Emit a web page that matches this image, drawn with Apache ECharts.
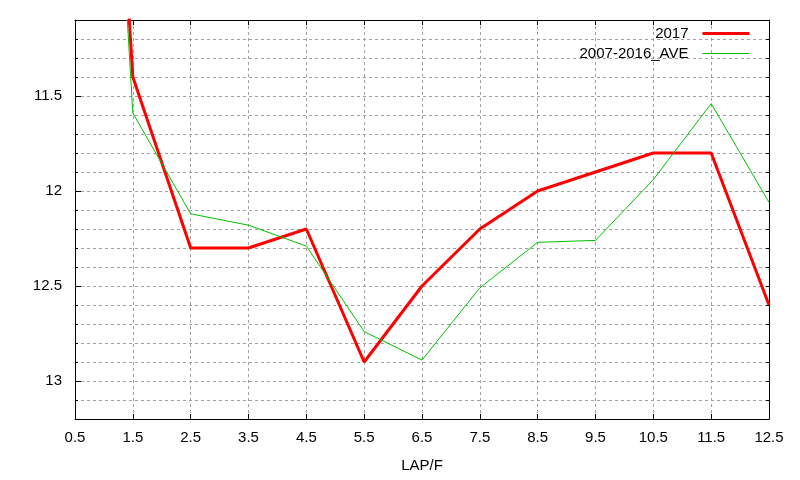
<!DOCTYPE html>
<html>
<head>
<meta charset="utf-8">
<script src="https://cdn.jsdelivr.net/npm/echarts@6/dist/echarts.min.js"></script>
<style>
html,body{margin:0;padding:0;background:#fff;}
#chart{width:800px;height:480px;}
</style>
</head>
<body>
<div id="chart"></div>
<script>
var laps = ['0.5','1.5','2.5','3.5','4.5','5.5','6.5','7.5','8.5','9.5','10.5','11.5','12.5'];
var lap2017 = [6.5, 11.4, 12.3, 12.3, 12.2, 12.9, 12.5, 12.2, 12.0, 11.9, 11.8, 11.8, 12.6];
var lapAve = [6.45, 11.59, 12.12, 12.18, 12.29, 12.74, 12.89, 12.51, 12.27, 12.26, 11.94, 11.54, 12.06];
var yLabels = [11.5, 12, 12.5, 13];
var seriesNames = ['2017', '2007-2016_AVE'];

var FONT = 'Liberation Sans, Arial, sans-serif';
var gridLine = {show: true, lineStyle: {color: '#a0a0a0', type: [3, 3], width: 1}};
var axisLine = {show: true, onZero: false, lineStyle: {color: '#000', width: 1}};

var chart = echarts.init(document.getElementById('chart'), null, {renderer: 'canvas'});
chart.setOption({
  animation: false,
  backgroundColor: '#fff',
  textStyle: {fontFamily: FONT},
  grid: {left: 75, right: 31, top: 20, bottom: 61, containLabel: false},
  legend: {
    data: seriesNames,
    orient: 'vertical',
    right: 49,
    top: 26,
    padding: 0,
    itemWidth: 47,
    itemHeight: 14,
    itemGap: 5,
    align: 'right',
    itemStyle: {opacity: 0},
    lineStyle: {width: 'inherit'},
    textStyle: {fontFamily: FONT, fontSize: 15, color: '#000', padding: [0, 9, 0, 0]}
  },
  xAxis: [{
    type: 'category',
    data: laps,
    boundaryGap: false,
    position: 'bottom',
    name: 'LAP/F',
    nameLocation: 'middle',
    nameGap: 39,
    nameTextStyle: {fontFamily: FONT, fontSize: 15, color: '#000'},
    axisLine: axisLine,
    axisTick: {show: true, inside: true, length: 5, interval: 0, lineStyle: {color: '#000'}},
    axisLabel: {interval: 0, margin: 11, fontFamily: FONT, fontSize: 15, color: '#000'},
    splitLine: {show: true, interval: 0, lineStyle: gridLine.lineStyle}
  }, {
    type: 'category',
    data: laps,
    boundaryGap: false,
    position: 'top',
    axisLine: axisLine,
    axisTick: {show: true, inside: true, length: 5, interval: 0, lineStyle: {color: '#000'}},
    axisLabel: {show: false},
    splitLine: {show: false}
  }],
  yAxis: [{
    type: 'value',
    inverse: true,
    min: 11.1,
    max: 13.2,
    interval: 0.1,
    position: 'left',
    axisLine: axisLine,
    axisTick: {show: true, inside: true, length: 3, lineStyle: {color: '#000'}},
    axisLabel: {
      margin: 13, fontFamily: FONT, fontSize: 15, color: '#000',
      formatter: function (v) {
        for (var i = 0; i < yLabels.length; i++) {
          if (Math.abs(v - yLabels[i]) < 1e-6) return String(yLabels[i]);
        }
        return '';
      }
    },
    splitLine: gridLine
  }, {
    type: 'value',
    inverse: true,
    min: 11.1,
    max: 13.2,
    interval: 0.1,
    position: 'right',
    axisLine: axisLine,
    axisTick: {show: true, inside: true, length: 3, lineStyle: {color: '#000'}},
    axisLabel: {show: false},
    splitLine: {show: false}
  }, {
    type: 'value',
    inverse: true,
    min: 11.1,
    max: 13.2,
    position: 'left',
    axisLine: {show: false},
    axisTick: {show: true, inside: true, length: 6, customValues: yLabels, lineStyle: {color: '#000'}},
    axisLabel: {show: false},
    splitLine: {show: false}
  }],
  series: [{
    name: seriesNames[0],
    type: 'line',
    xAxisIndex: 0,
    yAxisIndex: 0,
    data: lap2017,
    symbol: 'none',
    clip: true,
    lineStyle: {color: '#ff0000', width: 3},
    itemStyle: {color: '#ff0000'}
  }, {
    name: seriesNames[1],
    type: 'line',
    xAxisIndex: 0,
    yAxisIndex: 0,
    data: lapAve,
    symbol: 'none',
    clip: true,
    lineStyle: {color: '#00c000', width: 1},
    itemStyle: {color: '#00c000'}
  }]
});
</script>
</body>
</html>
